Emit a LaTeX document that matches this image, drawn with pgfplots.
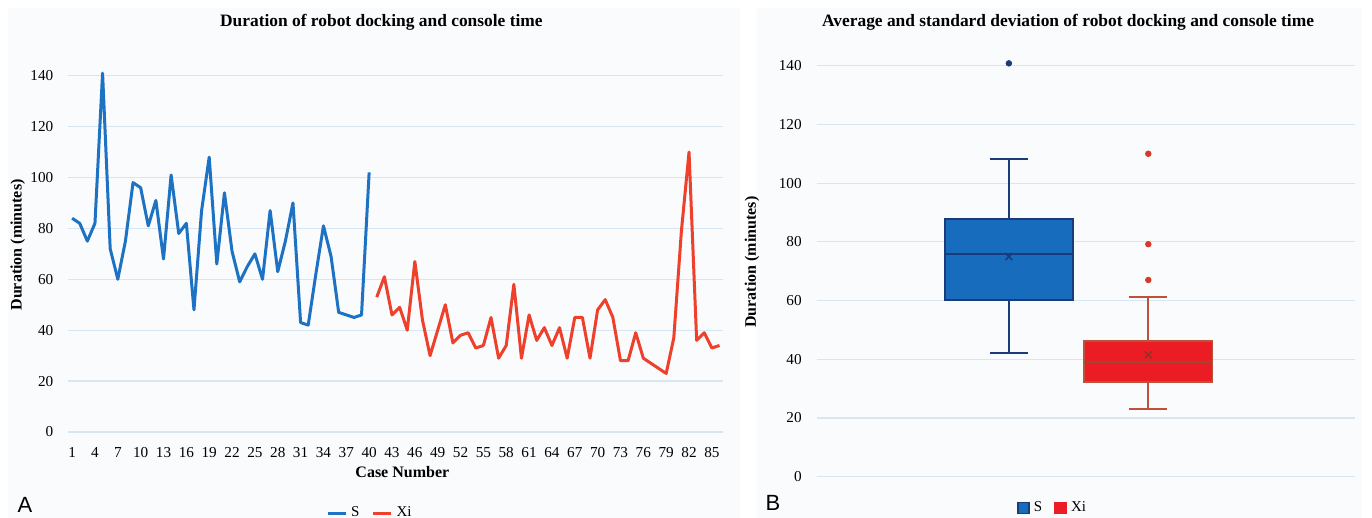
\documentclass[border=0pt]{standalone}
\usepackage{fontspec}
\setmainfont{Liberation Serif}
\newfontfamily\panelfont{Liberation Sans}
\usepackage{pgfplots}
\usepackage{pgfplotstable}
\pgfplotsset{compat=1.18}

\definecolor{sline}{RGB}{30,114,196}
\definecolor{xline}{RGB}{238,64,42}
\definecolor{sfill}{RGB}{24,108,190}
\definecolor{sedge}{RGB}{26,60,120}
\definecolor{xfill}{RGB}{236,28,36}
\definecolor{xedge}{RGB}{190,80,60}
\definecolor{xdot}{RGB}{214,58,43}
\definecolor{gridc}{RGB}{214,230,242}
\definecolor{bgc}{RGB}{250,251,253}

% case durations (minutes)
\pgfplotstableread{
case dur
1 84
2 82
3 75
4 82
5 141
6 72
7 60
8 75
9 98
10 96
11 81
12 91
13 68
14 101
15 78
16 82
17 48
18 87
19 108
20 66
21 94
22 71
23 59
24 65
25 70
26 60
27 87
28 63
29 75
30 90
31 43
32 42
33 62
34 81
35 69
36 47
37 46
38 45
39 46
40 102
}\sdata

\pgfplotstableread{
case dur
41 53
42 61
43 46
44 49
45 40
46 67
47 44
48 30
49 40
50 50
51 35
52 38
53 39
54 33
55 34
56 45
57 29
58 34
59 58
60 29
61 46
62 36
63 41
64 34
65 41
66 29
67 45
68 45
69 29
70 48
71 52
72 45
73 28
74 28
75 39
76 29
77 27
78 25
79 23
80 37
81 79
82 110
83 36
84 39
85 33
86 34
}\xdata

\pgfplotsset{
  excel/.style={
    scale only axis,
    axis line style={draw=none},
    major tick length=0pt,
    ymajorgrids,
    major grid style={color=gridc, line width=0.6pt},
    tick label style={font=\fontsize{7.6}{8}\selectfont},
    /pgf/number format/assume math mode=true,
    ymin=0, ymax=140, ytick={0,20,...,140},
    yticklabel style={xshift=-4pt},
    label style={font=\fontsize{8}{9}\selectfont\bfseries},
    title style={font=\fontsize{8.7}{9}\selectfont\bfseries, yshift=-6pt},
  },
}

\begin{document}
\begin{tikzpicture}
\useasboundingbox (0,0) rectangle (686pt,259pt);
\fill[bgc] (4pt,0pt) rectangle (370pt,255pt);
\fill[bgc] (378.5pt,0pt) rectangle (681pt,255pt);

% panel A
\begin{axis}[excel,
  at={(34.15pt,43pt)}, anchor=south west,
  width=327.5pt, height=178.15pt,
  xmin=0.5, xmax=86.5,
  xtick={1,4,...,85},
  xticklabel style={yshift=-4pt},
  clip=false,
  title={Duration of robot docking and console time},
  title style={at={(axis description cs:0.478,1.149)}, anchor=center},
  xlabel={Case Number},
  xlabel style={at={(axis description cs:0.51,-0.112)}, anchor=center},
  ylabel={Duration (minutes)},
  ylabel style={at={(axis description cs:-0.077,0.525)}, anchor=center},
  legend style={at={(axis description cs:0.462,-0.228)}, anchor=center,
    draw=none, fill=none, legend columns=2,
    font=\fontsize{7.5}{8}\selectfont,
    /tikz/every even column/.append style={column sep=4pt}},
  legend image code/.code={\draw[#1] (0pt,0pt) -- (9pt,0pt);},
]
\addplot[sline, line width=1.5pt, line join=round] table[x=case, y=dur] {\sdata};
\addlegendentry{S}
\addplot[xline, line width=1.5pt, line join=round] table[x=case, y=dur] {\xdata};
\addlegendentry{Xi}
\end{axis}

% panel B
\begin{axis}[excel,
  at={(408.35pt,20.65pt)}, anchor=south west,
  width=269.15pt, height=205.5pt,
  xmin=0, xmax=1, xtick=\empty,
  clip=false,
  title={Average and standard deviation of robot docking and console time},
  title style={at={(axis description cs:0.467,1.106)}, anchor=center},
  ylabel={Duration (minutes)},
  ylabel style={at={(axis description cs:-0.12,0.522)}, anchor=center},
  legend style={at={(axis description cs:0.44,-0.076)}, anchor=center,
    draw=none, fill=none, legend columns=2,
    font=\fontsize{7.5}{8}\selectfont,
    /tikz/every even column/.append style={column sep=4pt}},
  legend image code/.code={\draw[#1] (0pt,-2.8pt) rectangle (5.6pt,2.8pt);},
]
\addlegendimage{fill=sfill, draw=sedge, line width=0.8pt}
\addlegendentry{S}
\addlegendimage{fill=xfill, draw=xfill, line width=0.8pt}
\addlegendentry{Xi}

% S: whiskers 42.3 / 108.1, quartiles 60.3 / 87.8, median 75.9
\addplot[forget plot, sedge, line width=1pt] coordinates {(0.357,87.8) (0.357,108.1)};
\addplot[forget plot, sedge, line width=1pt] coordinates {(0.322,108.1) (0.392,108.1)};
\addplot[forget plot, sedge, line width=1pt] coordinates {(0.357,60.3) (0.357,42.3)};
\addplot[forget plot, sedge, line width=1pt] coordinates {(0.322,42.3) (0.392,42.3)};
\addplot[forget plot, fill=sfill, draw=sedge, line width=1pt]
  coordinates {(0.238,60.3) (0.476,60.3) (0.476,87.8) (0.238,87.8)} -- cycle;
\addplot[forget plot, sedge, line width=1pt] coordinates {(0.238,75.9) (0.476,75.9)};

% Xi: whiskers 23.1 / 61.1, quartiles 32.2 / 46.3, median 39.2
\addplot[forget plot, xedge, line width=1pt] coordinates {(0.616,46.3) (0.616,61.1)};
\addplot[forget plot, xedge, line width=1pt] coordinates {(0.581,61.1) (0.651,61.1)};
\addplot[forget plot, xedge, line width=1pt] coordinates {(0.616,32.2) (0.616,23.1)};
\addplot[forget plot, xedge, line width=1pt] coordinates {(0.581,23.1) (0.651,23.1)};
\addplot[forget plot, fill=xfill, draw=xedge, line width=0.8pt]
  coordinates {(0.497,32.2) (0.735,32.2) (0.735,46.3) (0.497,46.3)} -- cycle;
\addplot[forget plot, xedge!85!black, line width=0.9pt] coordinates {(0.497,39.2) (0.735,39.2)};

% means
\addplot[forget plot, only marks, mark=x, mark size=2.5pt, sedge, line width=0.8pt]
  coordinates {(0.357,75)};
\addplot[forget plot, only marks, mark=x, mark size=2.5pt, xedge!70!black, line width=0.7pt]
  coordinates {(0.616,41.5)};
% outliers
\addplot[forget plot, only marks, mark=*, mark size=1.4pt, sedge]
  coordinates {(0.357,140.8)};
\addplot[forget plot, only marks, mark=*, mark size=1.4pt, xdot]
  coordinates {(0.616,110) (0.616,79.2) (0.616,67)};
\end{axis}

\node[font=\panelfont\fontsize{11}{12}\selectfont] at (12.5pt,6.5pt) {A};
\node[font=\panelfont\fontsize{11}{12}\selectfont] at (386.5pt,7.5pt) {B};
\end{tikzpicture}
\end{document}
